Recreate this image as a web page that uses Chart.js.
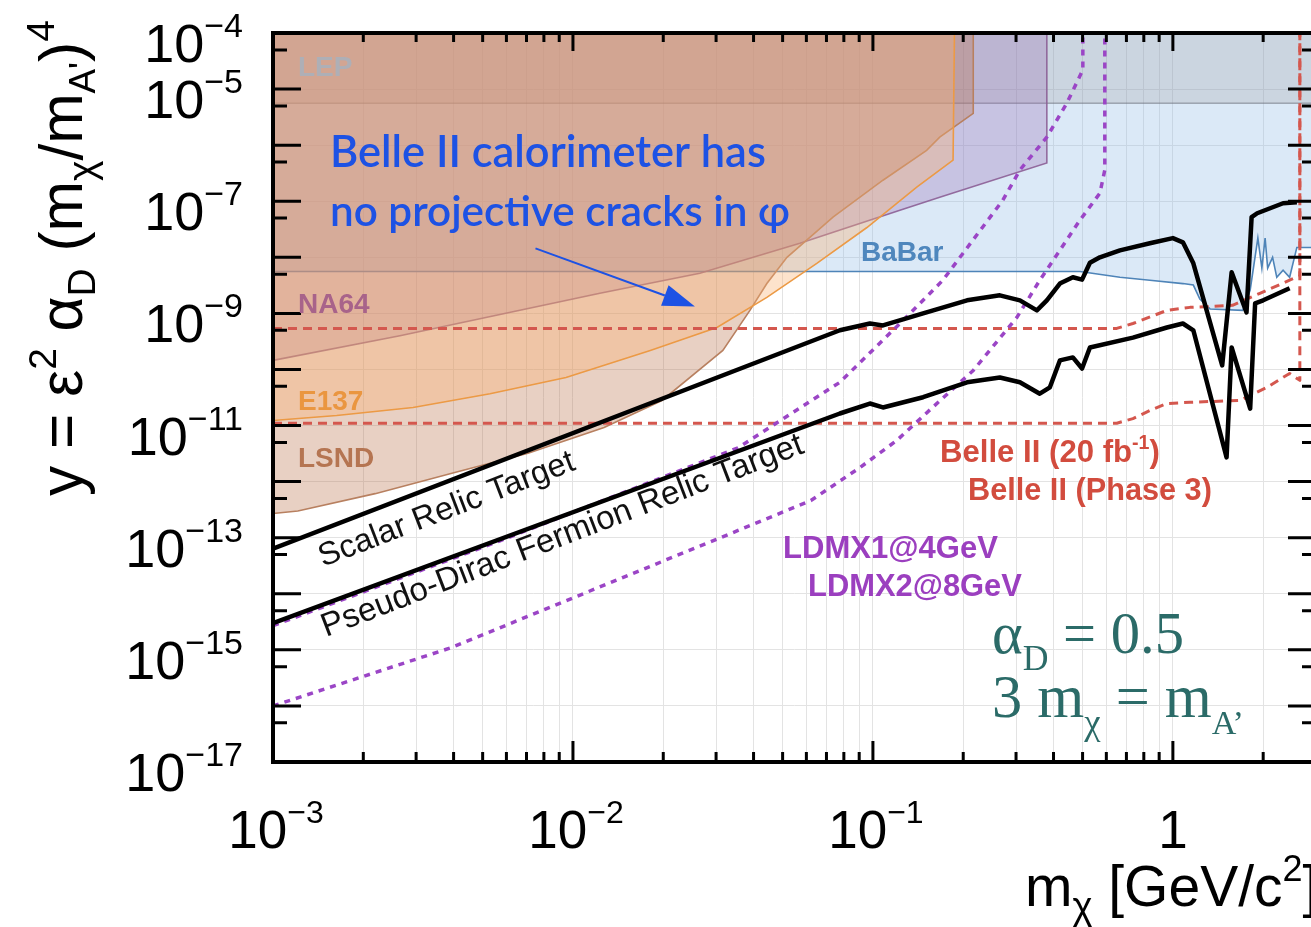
<!DOCTYPE html>
<html><head><meta charset="utf-8">
<script src="https://cdn.jsdelivr.net/npm/chart.js@4.4.1/dist/chart.umd.min.js"></script>
<style>
html,body{margin:0;padding:0;background:#fff;overflow:hidden;width:1311px;height:927px}
#wrap{width:1330px;height:927px;position:relative}
canvas{display:block}
</style></head>
<body><div id="wrap"><canvas id="c" width="1330" height="927"></canvas></div>
<script>
// ---------------- data (m_chi in GeV, y = eps^2 alpha_D (m_chi/m_A')^4) ----------------
const lepMass   = [1e-3, 3];
const lepY      = [5.6e-6, 5.6e-6];

const babarMass = [1e-3, 0.49, 0.666, 0.838, 1.08, 1.17, 1.23, 1.33, 1.71, 1.81, 1.92, 1.98, 2.03, 2.07, 2.15, 2.22, 2.33, 2.45, 2.59, 3.0];
const babarY    = [5.6e-9, 5.6e-9, 4.4e-9, 3.9e-9, 3.4e-9, 3.2e-9, 1.8e-9, 1.2e-9, 1.13e-9, 2.6e-9, 2.2e-8, 6.4e-9, 2.2e-8, 6.4e-9, 1.0e-8, 4.4e-9, 5.9e-9, 4.4e-9, 1.5e-8, 1.5e-8];

const na64Mass  = [1e-3, 2.65e-3, 1.23e-2, 2.65e-2, 5.71e-2, 0.123, 0.167, 0.380, 0.380];
const na64Y     = [1.45e-10, 4.0e-10, 2.28e-9, 5.2e-9, 1.78e-8, 6.9e-8, 1.18e-7, 4.8e-7, 1e-4];

const e137Mass  = [1e-3, 1.63e-3, 2.93e-3, 5.29e-3, 9.48e-3, 1.81e-2, 3.02e-2, 4.43e-2, 6.50e-2, 9.55e-2, 0.140, 0.185, 0.187];
const e137Y     = [1.23e-11, 1.51e-11, 2.1e-11, 3.7e-11, 7.2e-11, 2.18e-10, 5.6e-10, 1.93e-9, 7.8e-9, 3.4e-8, 1.78e-7, 5.4e-7, 1e-4];

const lsndMass  = [1e-3, 1.21e-3, 2.19e-3, 3.92e-3, 7.08e-3, 1.27e-2, 1.98e-2, 3.16e-2, 3.89e-2, 4.43e-2, 5.17e-2, 7.36e-2, 0.108, 0.151, 0.167, 0.216, 0.216];
const lsndY     = [2.7e-13, 3.0e-13, 6.1e-13, 1.39e-12, 3.2e-12, 9.2e-12, 2.8e-11, 2.18e-10, 1.13e-9, 3.4e-9, 1.0e-8, 5.2e-8, 2.37e-7, 8.1e-7, 1.39e-6, 3.7e-6, 1e-4];

const scalarMass = [1e-3, 7.76e-2, 9.77e-2, 0.108, 0.147, 0.206, 0.265, 0.309, 0.352, 0.380, 0.420, 0.464, 0.498, 0.529, 0.571, 0.666, 0.838, 1.0, 1.08, 1.17, 1.46, 1.57, 1.76, 1.83, 1.91, 2.33, 2.59];
const scalarY    = [6.4e-14, 5.0e-10, 6.6e-10, 6.1e-10, 1.0e-9, 1.71e-9, 2.1e-9, 1.71e-9, 1.13e-9, 1.71e-9, 3.4e-9, 4.4e-9, 4.0e-9, 8.0e-9, 1.0e-8, 1.33e-8, 1.78e-8, 2.2e-8, 1.85e-8, 7.8e-9, 1.18e-10, 5.4e-9, 1.04e-9, 5.2e-8, 6.1e-8, 9.2e-8, 9.6e-8];

const diracMass = [1e-3, 7.76e-2, 9.77e-2, 0.108, 0.147, 0.206, 0.265, 0.309, 0.360, 0.389, 0.420, 0.464, 0.498, 0.529, 0.736, 0.955, 1.08, 1.17, 1.51, 1.57, 1.81, 1.88, 2.0, 2.45];
const diracY    = [3.0e-15, 1.64e-11, 2.47e-11, 2.1e-11, 3.2e-11, 5.9e-11, 7.2e-11, 5.9e-11, 3.7e-11, 4.8e-11, 1.45e-10, 1.64e-10, 1.04e-10, 2.47e-10, 3.7e-10, 5.6e-10, 6.6e-10, 5.0e-10, 2.7e-12, 2.47e-10, 2.0e-11, 1.51e-9, 1.71e-9, 2.8e-9];

const belle20Mass = [1e-3, 0.65, 0.736, 0.955, 1.14, 1.58, 1.95, 2.45, 2.65, 2.65];
const belle20Y    = [5.4e-10, 5.4e-10, 6.6e-10, 1.13e-9, 1.28e-9, 1.39e-9, 2.28e-9, 3.9e-9, 4.7e-9, 1e-4];

const belleP3Mass = [1e-3, 0.65, 0.736, 0.838, 0.955, 1.14, 1.67, 2.06, 2.45, 2.65, 2.65];
const belleP3Y    = [1.1e-11, 1.1e-11, 1.33e-11, 1.85e-11, 2.47e-11, 2.6e-11, 2.8e-11, 4.8e-11, 8.5e-11, 6.4e-11, 1e-4];

const ldmx1Mass = [1e-3, 5.71e-3, 3.55e-2, 7.76e-2, 8.85e-2, 0.127, 0.171, 0.271, 0.309, 0.380, 0.443, 0.501, 0.501];
const ldmx1Y    = [2.7e-15, 8.8e-14, 4.0e-12, 5.9e-11, 1.18e-10, 7.8e-10, 3.9e-9, 1.04e-7, 3.6e-7, 1.39e-6, 5.6e-6, 2.2e-5, 1e-4];

const ldmx2Mass = [1e-3, 3.92e-3, 3.89e-2, 6.21e-2, 9.05e-2, 0.120, 0.158, 0.216, 0.302, 0.360, 0.420, 0.490, 0.571, 0.593, 0.593];
const ldmx2Y    = [1.0e-16, 1.09e-15, 1.64e-13, 4.6e-13, 1.78e-12, 5.4e-12, 2.1e-11, 9.6e-11, 8.5e-10, 3.9e-9, 1.33e-8, 4.6e-8, 1.39e-7, 3.6e-7, 1e-4];

// axis tick labels
const xTickValues = [1e-3, 1e-2, 1e-1, 1];
const xTickExp    = ['\u22123', '\u22122', '\u22121', null];
const yTickValues = [1e-4, 1e-5, 1e-7, 1e-9, 1e-11, 1e-13, 1e-15, 1e-17];
const yTickExp    = ['\u22124', '\u22125', '\u22127', '\u22129', '\u221211', '\u221213', '\u221215', '\u221217'];

// annotation arrow (data coordinates)
const arrowFrom = [7.5e-3, 1.44e-8];
const arrowTo   = [2.55e-2, 1.33e-9];

// ---------------- helpers ----------------
const SANS = '"Liberation Sans", Arial, sans-serif';
const pts = (xs, ys) => xs.map((x, i) => ({x: x, y: ys[i]}));
function fnt(p){ return (p.w || 'normal') + ' ' + p.s + 'px ' + (p.f || SANS); }
function measureParts(ctx, parts){ let t = 0; parts.forEach(p => { ctx.font = fnt(p); t += ctx.measureText(p.t).width; }); return t; }
function fitParts(ctx, parts, width){
  const k = width / measureParts(ctx, parts);
  return parts.map(p => Object.assign({}, p, {s: p.s * k, dy: (p.dy || 0) * k}));
}
function drawParts(ctx, parts, x, y, align){
  const total = measureParts(ctx, parts);
  let cx = align === 'right' ? x - total : (align === 'center' ? x - total / 2 : x);
  ctx.textAlign = 'left'; ctx.textBaseline = 'alphabetic';
  parts.forEach(p => { ctx.font = fnt(p); ctx.fillText(p.t, cx, y + (p.dy || 0)); cx += ctx.measureText(p.t).width; });
}

const xGrid = []; for (let d = -3; d <= 0; d++) for (let k = 1; k <= 9; k++) { const v = k * Math.pow(10, d); if (v <= 3.0001) xGrid.push(v); }
const yGrid = []; for (let d = -17; d <= -4; d++) yGrid.push(Math.pow(10, d));

const deco = {
  id: 'deco',
  afterDraw(chart){
    const ctx = chart.ctx, a = chart.chartArea, X = chart.scales.x, Y = chart.scales.y;
    ctx.save();
    // ticks
    ctx.strokeStyle = '#000'; ctx.lineWidth = 3; ctx.lineCap = 'butt';
    ctx.beginPath();
    for (let d = -3; d <= 0; d++) for (let k = 1; k <= 9; k++) {
      const v = k * Math.pow(10, d); if (v > 3) continue;
      const px = X.getPixelForValue(v);
      const maj = (k === 1);
      ctx.moveTo(px, a.bottom); ctx.lineTo(px, a.bottom - (maj ? 21 : 10));
      ctx.moveTo(px, a.top); ctx.lineTo(px, a.top + (maj ? 18 : 9));
    }
    for (let d = -17; d <= -4; d++) {
      const pm = Y.getPixelForValue(Math.pow(10, d));
      const pn = Y.getPixelForValue(5 * Math.pow(10, d));
      ctx.moveTo(a.left, pm); ctx.lineTo(a.left + 28, pm);
      ctx.moveTo(a.right, pm); ctx.lineTo(a.right - 28, pm);
      if (d < -4) { ctx.moveTo(a.left, pn); ctx.lineTo(a.left + 14, pn); ctx.moveTo(a.right, pn); ctx.lineTo(a.right - 14, pn); }
    }
    ctx.stroke();
    // frame
    ctx.lineWidth = 4;
    ctx.strokeRect(a.left, a.top, a.right - a.left, a.bottom - a.top);

    ctx.fillStyle = '#000';
    // x tick labels
    xTickValues.forEach((v, i) => {
      const px = X.getPixelForValue(v);
      const parts = xTickExp[i] ? [{t: '10', s: 53}, {t: xTickExp[i], s: 32, dy: -25}] : [{t: '1', s: 53}];
      drawParts(ctx, parts, px + (xTickExp[i] ? 3 : 0), a.bottom + 86, 'center');
    });
    // y tick labels
    yTickValues.forEach((v, i) => {
      const py = Y.getPixelForValue(v);
      drawParts(ctx, [{t: '10', s: 54}, {t: yTickExp[i], s: 34, dy: -25}], a.left - 30, py + 29, 'right');
    });
    // axis titles
    drawParts(ctx, [{t: 'm', s: 57}, {t: '\u03C7', s: 38, dy: 13}, {t: ' [GeV/c', s: 57}, {t: '2', s: 36, dy: -25}, {t: ']', s: 57}], 1025, 906, 'left');
    ctx.save();
    ctx.translate(82, 496); ctx.rotate(-Math.PI / 2);
    let yt = [{t: 'y = \u03B5', s: 56}, {t: '2', s: 36, dy: -24}, {t: ' \u03B1', s: 56}, {t: 'D', s: 36, dy: 12},
              {t: ' (m', s: 56}, {t: '\u03C7', s: 36, dy: 12}, {t: '/m', s: 56}, {t: "A'", s: 34, dy: 12}, {t: ')', s: 56}, {t: '4', s: 36, dy: -26}];
    yt = fitParts(ctx, yt, 476);
    drawParts(ctx, yt, 0, 0, 'left');
    ctx.restore();

    // region labels
    const lab = (t, x, y, col, s) => { ctx.fillStyle = col; drawParts(ctx, [{t: t, s: s || 28, w: 'bold'}], x, y, 'left'); };
    lab('LEP', 298, 76, 'rgba(172,176,184,0.95)');
    lab('NA64', 298, 313, '#a8638a');
    lab('E137', 298, 410, '#ea9640');
    lab('LSND', 298, 467, '#b57552');
    lab('BaBar', 861, 261, '#4f87bd');
    ctx.fillStyle = '#d24c3e';
    drawParts(ctx, fitParts(ctx, [{t: 'Belle II (20 fb', s: 27, w: 'bold'}, {t: '-1', s: 17, w: 'bold', dy: -11}, {t: ')', s: 27, w: 'bold'}], 220), 940, 462, 'left');
    drawParts(ctx, fitParts(ctx, [{t: 'Belle II (Phase 3)', s: 27, w: 'bold'}], 244), 968, 500, 'left');
    ctx.fillStyle = '#9b3fbf';
    drawParts(ctx, fitParts(ctx, [{t: 'LDMX1@4GeV', s: 27, w: 'bold'}], 215), 783, 558, 'left');
    drawParts(ctx, fitParts(ctx, [{t: 'LDMX2@8GeV', s: 27, w: 'bold'}], 214), 808, 596, 'left');

    // blue note
    ctx.fillStyle = '#1d52e4';
    drawParts(ctx, fitParts(ctx, [{t: 'Belle II calorimeter has', s: 38, w: '600', f: 'Lato, sans-serif'}], 436), 330, 167, 'left');
    drawParts(ctx, fitParts(ctx, [{t: 'no projective cracks in \u03C6', s: 38, w: '600', f: 'Lato, sans-serif'}], 460), 330, 226, 'left');
    // arrow
    const x0 = X.getPixelForValue(arrowFrom[0]), y0 = Y.getPixelForValue(arrowFrom[1]);
    const x1 = X.getPixelForValue(arrowTo[0]), y1 = Y.getPixelForValue(arrowTo[1]);
    const ang = Math.atan2(y1 - y0, x1 - x0), L = 32, H = 11;
    const bx = x1 - L * Math.cos(ang), by = y1 - L * Math.sin(ang);
    ctx.strokeStyle = '#1d52e4'; ctx.lineWidth = 2;
    ctx.beginPath(); ctx.moveTo(x0, y0); ctx.lineTo(bx, by); ctx.stroke();
    ctx.beginPath(); ctx.moveTo(x1, y1);
    ctx.lineTo(bx + H * Math.sin(ang), by - H * Math.cos(ang));
    ctx.lineTo(bx - H * Math.sin(ang), by + H * Math.cos(ang));
    ctx.closePath(); ctx.fill();

    // relic target labels (rotated along the lines)
    ctx.fillStyle = '#111';
    const rot = Math.atan2(Y.getPixelForValue(5.0e-10) - Y.getPixelForValue(6.4e-14), X.getPixelForValue(7.76e-2) - X.getPixelForValue(1e-3));
    ctx.save(); ctx.translate(323, 567); ctx.rotate(rot);
    drawParts(ctx, fitParts(ctx, [{t: 'Scalar Relic Target', s: 32}], 272), 0, 0, 'left'); ctx.restore();
    ctx.save(); ctx.translate(326, 637); ctx.rotate(rot);
    drawParts(ctx, fitParts(ctx, [{t: 'Pseudo-Dirac Fermion Relic Target', s: 32}], 514), 0, 0, 'left'); ctx.restore();

    // benchmark text
    ctx.fillStyle = '#2b6b68';
    const SER = '"Liberation Serif", "DejaVu Serif", serif';
    drawParts(ctx, fitParts(ctx, [{t: '\u03B1', s: 46, f: SER}, {t: 'D', s: 28, f: SER, dy: 13}, {t: ' = 0.5', s: 46, f: SER}], 192), 992, 653, 'left');
    drawParts(ctx, fitParts(ctx, [{t: '3 m', s: 46, f: SER}, {t: '\u03C7', s: 28, f: SER, dy: 13}, {t: ' = m', s: 46, f: SER}, {t: 'A\u2019', s: 26, f: SER, dy: 13}], 252), 992, 717, 'left');
    ctx.restore();
  }
};

const fillSet = (label, xs, ys, bg, border, order) => ({
  label, data: pts(xs, ys), fill: 'end', backgroundColor: bg, borderColor: border, borderWidth: 1.6,
  pointRadius: 0, tension: 0, order
});
const lineSet = (label, xs, ys, color, width, dash, order) => ({
  label, data: pts(xs, ys), fill: false, borderColor: color, borderWidth: width, borderDash: dash,
  pointRadius: 0, tension: 0, order, borderJoinStyle: 'round', borderCapStyle: 'butt'
});

new Chart(document.getElementById('c'), {
  type: 'line',
  data: {
    datasets: [
      lineSet('Scalar Relic Target', scalarMass, scalarY, '#000', 4.5, [], 1),
      lineSet('Pseudo-Dirac Fermion Relic Target', diracMass, diracY, '#000', 4.5, [], 1),
      lineSet('LDMX1@4GeV', ldmx1Mass, ldmx1Y, '#9b45c6', 3.5, [6, 6], 2),
      lineSet('LDMX2@8GeV', ldmx2Mass, ldmx2Y, '#9b45c6', 3.5, [6, 6], 2),
      lineSet('Belle II (20 fb-1)', belle20Mass, belle20Y, '#d4574e', 3, [9, 6], 3),
      lineSet('Belle II (Phase 3)', belleP3Mass, belleP3Y, '#d4574e', 3, [9, 6], 3),
      fillSet('E137', e137Mass, e137Y, 'rgba(249,178,114,0.36)', '#ec9a45', 6),
      fillSet('LSND', lsndMass, lsndY, 'rgba(188,116,78,0.34)', '#b88060', 7),
      fillSet('NA64', na64Mass, na64Y, 'rgba(153,106,176,0.30)', 'rgba(140,95,150,0.9)', 8),
      fillSet('LEP', lepMass, lepY, 'rgba(140,132,132,0.20)', 'rgba(110,115,125,0.55)', 9),
      fillSet('BaBar', babarMass, babarY, 'rgba(150,190,232,0.34)', '#4e84b8', 10)
    ]
  },
  options: {
    responsive: false, animation: false, devicePixelRatio: 1,
    layout: {padding: {left: 273, top: 33, right: 14, bottom: 165}},
    plugins: {legend: {display: false}, tooltip: {enabled: false}},
    scales: {
      x: {type: 'logarithmic', min: 1e-3, max: 3,
          ticks: {display: false}, border: {display: false}, title: {display: false},
          grid: {color: '#e3e3e3', lineWidth: 1, drawTicks: false},
          afterBuildTicks: s => { s.ticks = xGrid.map(v => ({value: v})); },
          afterFit: s => { s.height = 0; }},
      y: {type: 'logarithmic', min: 1e-17, max: 1e-4,
          ticks: {display: false}, border: {display: false}, title: {display: false},
          grid: {color: '#e3e3e3', lineWidth: 1, drawTicks: false},
          afterBuildTicks: s => { s.ticks = yGrid.map(v => ({value: v})); },
          afterFit: s => { s.width = 0; }}
    }
  },
  plugins: [deco]
});
</script></body></html>
